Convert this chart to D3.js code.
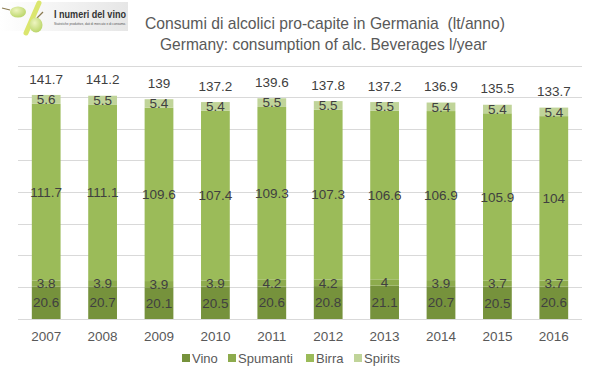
<!DOCTYPE html>
<html>
<head>
<meta charset="utf-8">
<script src="https://cdn.jsdelivr.net/npm/d3@7"></script>
<style>
  html, body { margin: 0; padding: 0; background: #fff; }
  svg { display: block; }
</style>
</head>
<body>
<svg id="chart" width="599" height="378"></svg>
<script>
const years = ["2007","2008","2009","2010","2011","2012","2013","2014","2015","2016"];
const vino = [20.6, 20.7, 20.1, 20.5, 20.6, 20.8, 21.1, 20.7, 20.5, 20.6];
const spumanti = [3.8, 3.9, 3.9, 3.9, 4.2, 4.2, 4, 3.9, 3.7, 3.7];
const birra = [111.7, 111.1, 109.6, 107.4, 109.3, 107.3, 106.6, 106.9, 105.9, 104];
const spirits = [5.6, 5.5, 5.4, 5.4, 5.5, 5.5, 5.5, 5.4, 5.4, 5.4];
const totals = [141.7, 141.2, 139, 137.2, 139.6, 137.8, 137.2, 136.9, 135.5, 133.7];
const seriesNames = ["Vino", "Spumanti", "Birra", "Spirits"];
const yTicks = [0, 20, 40, 60, 80, 100, 120, 140, 160];
const titleLines = ["Consumi di alcolici pro-capite in Germania  (lt/anno)", "Germany: consumption of alc. Beverages l/year"];

const colors = {"Vino": "#76923c", "Spumanti": "#8dab4d", "Birra": "#9bbb59", "Spirits": "#c0d499"};

const svg = d3.select("#chart");
const plotLeft = 18, plotRight = 582, plotTop = 66, plotBottom = 319;

const x = d3.scaleBand().domain(years).range([plotLeft, plotRight]).paddingInner(0.49).paddingOuter(0.245);
const y = d3.scaleLinear().domain([0, 160]).range([plotBottom, plotTop]);

// gridlines
svg.append("g").selectAll("line").data(yTicks).join("line")
  .attr("x1", plotLeft).attr("x2", plotRight)
  .attr("y1", d => y(d)).attr("y2", d => y(d))
  .attr("stroke", "#d9d9d9").attr("stroke-width", 1)
  .attr("shape-rendering", "crispEdges");

// data table
const table = years.map((yr, i) => ({year: yr, Vino: vino[i], Spumanti: spumanti[i], Birra: birra[i], Spirits: spirits[i], total: totals[i]}));
const stack = d3.stack().keys(seriesNames)(table);

const layers = svg.append("g").selectAll("g").data(stack).join("g")
  .attr("fill", d => colors[d.key]);
layers.selectAll("rect").data(d => d).join("rect")
  .attr("x", d => x(d.data.year))
  .attr("width", x.bandwidth())
  .attr("y", d => y(d[1]))
  .attr("height", d => y(d[0]) - y(d[1]));

// segment labels
const lbl = svg.append("g").attr("font-family", "Liberation Sans, Arial, sans-serif")
  .attr("font-size", "13.5px").attr("fill", "#404040").attr("text-anchor", "middle");
stack.forEach(layer => {
  lbl.append("g").selectAll("text").data(layer).join("text")
    .attr("x", d => x(d.data.year) + x.bandwidth() / 2)
    .attr("y", d => (y(d[0]) + y(d[1])) / 2)
    .attr("dy", "0.35em")
    .text(d => d.data[layer.key]);
});

// totals
lbl.append("g").selectAll("text").data(table).join("text")
  .attr("x", d => x(d.year) + x.bandwidth() / 2)
  .attr("y", d => y(d.total) - 16)
  .attr("dy", "0.35em")
  .text(d => d.total);

// x axis labels
const xAxis = svg.append("g").attr("transform", `translate(0,${plotBottom})`)
  .call(d3.axisBottom(x).tickSize(0).tickPadding(12));
xAxis.select(".domain").remove();
xAxis.selectAll("text").attr("font-family", "Liberation Sans, Arial, sans-serif")
  .attr("font-size", "13.5px").attr("fill", "#595959");

// legend
const legendX = [182, 228, 306, 354];
const lg = svg.append("g").selectAll("g").data(seriesNames).join("g")
  .attr("transform", (d, i) => `translate(${legendX[i]},354)`);
lg.append("rect").attr("width", 8).attr("height", 8).attr("fill", d => colors[d]);
lg.append("text").attr("x", 10).attr("y", 8.5)
  .attr("font-family", "Liberation Sans, Arial, sans-serif").attr("font-size", "13px")
  .attr("fill", "#595959").text(d => d);

// title
const titleWidths = [360, 327];
svg.append("g").selectAll("text").data(titleLines).join("text")
  .attr("x", (d, i) => i === 0 ? 145 : 160).attr("y", (d, i) => 29 + i * 21)
  .attr("font-family", "Liberation Sans, Arial, sans-serif")
  .attr("font-size", "17px").attr("fill", "#595959")
  .style("white-space", "pre")
  .attr("textLength", (d, i) => titleWidths[i])
  .attr("lengthAdjust", "spacingAndGlyphs")
  .text(d => d);

// logo
const defs = svg.append("defs");
const grad = defs.append("linearGradient").attr("id", "lg1").attr("x1", "0").attr("x2", "1").attr("y1", "0").attr("y2", "0");
grad.append("stop").attr("offset", "0%").attr("stop-color", "#ffffff");
grad.append("stop").attr("offset", "100%").attr("stop-color", "#e6e6e6");
const gg = defs.append("radialGradient").attr("id", "grape").attr("cx", "0.4").attr("cy", "0.35").attr("r", "0.7");
gg.append("stop").attr("offset", "0%").attr("stop-color", "#eef5c0");
gg.append("stop").attr("offset", "100%").attr("stop-color", "#b8d465");

const logo = svg.append("g");
logo.append("rect").attr("x", 0).attr("y", 2).attr("width", 128).attr("height", 29).attr("fill", "url(#lg1)");
logo.append("line").attr("x1", 2).attr("y1", 8).attr("x2", 10).attr("y2", 10).attr("stroke", "#8a7a50").attr("stroke-width", 1.2);
logo.append("ellipse").attr("cx", 18).attr("cy", 12).attr("rx", 8).attr("ry", 5.5).attr("fill", "url(#grape)");
logo.append("line").attr("x1", 39).attr("y1", 3).attr("x2", 26).attr("y2", 33).attr("stroke", "#dbe66e").attr("stroke-width", 5).attr("stroke-linecap", "round");
logo.append("line").attr("x1", 37).attr("y1", 18).attr("x2", 43).attr("y2", 12).attr("stroke", "#8a7a50").attr("stroke-width", 1.2);
logo.append("ellipse").attr("cx", 36).attr("cy", 25).attr("rx", 6.5).attr("ry", 7.5).attr("fill", "url(#grape)");
logo.append("text").attr("x", 54).attr("y", 18).attr("font-family", "Liberation Sans, Arial, sans-serif")
  .attr("font-weight", "bold").attr("font-size", "10px").attr("fill", "#333")
  .attr("textLength", 72).attr("lengthAdjust", "spacingAndGlyphs").text("I numeri del vino");
logo.append("text").attr("x", 54).attr("y", 24.5).attr("font-family", "Liberation Sans, Arial, sans-serif")
  .attr("font-size", "3.2px").attr("fill", "#555")
  .attr("textLength", 72).attr("lengthAdjust", "spacingAndGlyphs").text("Statistiche produttive, dati di mercato e di consumo.");
</script>
</body>
</html>
